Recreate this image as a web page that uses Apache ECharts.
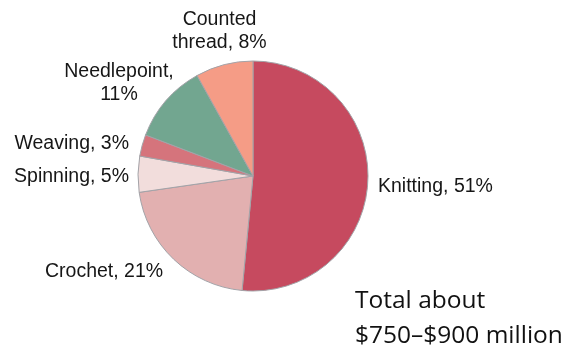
<!DOCTYPE html>
<html>
<head>
<meta charset="utf-8">
<script src="https://cdn.jsdelivr.net/npm/echarts@6/dist/echarts.min.js"></script>
<style>
  html, body { margin: 0; padding: 0; background: #fff; }
  #chart { width: 566px; height: 347px; }
</style>
</head>
<body>
<div id="chart"></div>
<script>
// Needlecraft market share by segment (percent)
const categories = ['Knitting', 'Crochet', 'Spinning', 'Weaving', 'Needlepoint', 'Counted thread'];
const shares = [51, 21, 5, 3, 11, 8];
const colors = ['#C64A5F', '#E2B0B0', '#F2DDDC', '#D5747C', '#72A690', '#F59C86'];
const totalNote = ['Total about', '$750–$900 million'];

// Label anchor placement around the pie, per slice
const labelSpots = [
  { x: 378, y: 187, align: 'left' },
  { x: 45, y: 272, align: 'left' },
  { x: 129, y: 177, align: 'right' },
  { x: 129, y: 144, align: 'right' },
  { x: 119, y: 83.5, align: 'center' },
  { x: 219.5, y: 31, align: 'center' }
];

function labelText(name, value) {
  if (name === 'Counted thread') return 'Counted\nthread, ' + value + '%';
  if (name === 'Needlepoint') return 'Needlepoint,\n' + value + '%';
  return name + ', ' + value + '%';
}

const chart = echarts.init(document.getElementById('chart'), null, { renderer: 'canvas' });

chart.setOption({
  animation: false,
  backgroundColor: '#ffffff',
  title: {
    text: totalNote.join('\n'),
    left: 350,
    top: 279,
    textStyle: {
      fontFamily: 'Open Sans',
      fontSize: 24.5,
      fontWeight: 'normal',
      color: '#111111',
      lineHeight: 35
    }
  },
  series: [{
    type: 'pie',
    center: [253, 176],
    radius: [0, 115],
    startAngle: 90,
    clockwise: true,
    itemStyle: { borderColor: '#A3A3A8', borderWidth: 1 },
    emphasis: { disabled: true },
    labelLine: { show: false },
    label: {
      show: true,
      position: 'outside',
      overflow: 'none',
      fontFamily: 'Liberation Sans',
      fontSize: 19.5,
      lineHeight: 23,
      color: '#161616',
      formatter: p => labelText(p.name, p.value)
    },
    labelLayout: params => {
      const s = labelSpots[params.dataIndex];
      return { x: s.x, y: s.y, align: s.align, verticalAlign: 'middle', hideOverlap: false };
    },
    data: categories.map((name, i) => ({
      name: name,
      value: shares[i],
      itemStyle: { color: colors[i] }
    }))
  }]
});
</script>
</body>
</html>
